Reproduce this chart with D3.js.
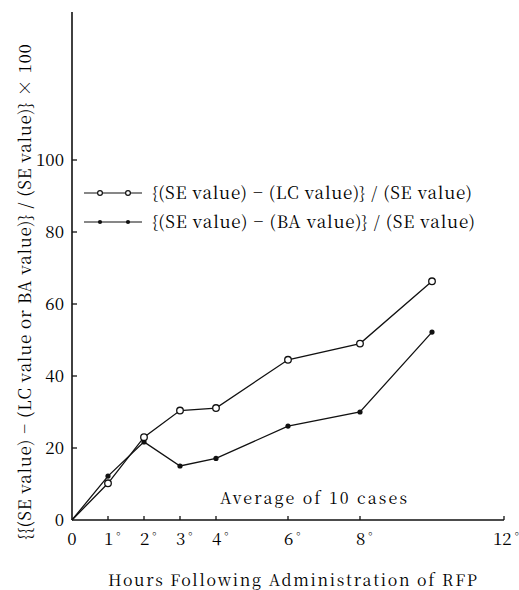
<!DOCTYPE html>
<html><head><meta charset="utf-8"><script src="https://cdn.jsdelivr.net/npm/d3@7"></script></head>
<body style="margin:0">
<script>
// Hours after administration and the two percentage series
const hours = [0, 1, 2, 3, 4, 6, 8, 10];
const lcSeries = [0, 10.2, 23, 30.4, 31.1, 44.5, 49, 66.3];
const baSeries = [0, 12.2, 21.7, 15, 17.1, 26.1, 30, 52.2];
const xTicks = [0, 1, 2, 3, 4, 6, 8, 12];
const xTickLabels = ["0", "1°", "2°", "3°", "4°", "6°", "8°", "12°"];
const yTicks = [0, 20, 40, 60, 80, 100];
const legendLabels = [
  "{(SE value) − (LC value)} / (SE value)",
  "{(SE value) − (BA value)} / (SE value)"
];
const noteText = "Average of 10 cases";
const xTitle = "Hours Following Administration of RFP";
const yTitle = "{{(SE value) − (LC value or BA value)} / (SE value)} × 100";

const W = 519, H = 590;
const INK = "#111";
const FONT = `"Noto Serif CJK JP"`;

const svg = d3.select("body").append("svg").attr("width", W).attr("height", H);

// Text helper: places a label at (px, py), optionally rotated
function txt(size, px, py, rot = 0) {
  const t = svg.append("text")
    .attr("transform", `translate(${px},${py}) rotate(${rot})`)
    .attr("font-size", size);
  t.style("font-family", FONT);
  return t;
}

const x = d3.scaleLinear().domain([0, 12]).range([72, 504]);
const y = d3.scaleLinear().domain([0, 100]).range([520, 160]);
const yTop = 12;

// Axes
svg.append("line").attr("x1", x(0)).attr("x2", x(0)).attr("y1", y(0)).attr("y2", yTop)
  .attr("stroke", INK).attr("stroke-width", 1.6);
svg.append("line").attr("x1", x(0)).attr("x2", x(12)).attr("y1", y(0)).attr("y2", y(0))
  .attr("stroke", INK).attr("stroke-width", 1.6);

// Y ticks (inward) and labels
yTicks.forEach(v => {
  if (v > 0) svg.append("line").attr("x1", x(0)).attr("x2", x(0) + 5)
    .attr("y1", y(v)).attr("y2", y(v)).attr("stroke", INK).attr("stroke-width", 1.3);
  txt(17, x(0) - 8, y(v) + 6).attr("text-anchor", "end").text(v);
});

// X ticks (upward) and labels with a small degree mark
xTicks.forEach((v, i) => {
  if (v > 0) svg.append("line").attr("x1", x(v)).attr("x2", x(v))
    .attr("y1", y(0)).attr("y2", y(0) - 4).attr("stroke", INK).attr("stroke-width", 1.3);
  const lbl = xTickLabels[i];
  if (lbl.endsWith("°")) {
    const num = lbl.slice(0, -1);
    const t = txt(17, x(v) - (num.length === 2 ? 11 : 4), 545);
    t.append("tspan").text(num);
    t.append("tspan").attr("font-size", 12).attr("dx", 3).attr("dy", -4).text("°");
  } else {
    txt(17, x(v), 545).attr("text-anchor", "middle").text(lbl);
  }
});

// Series lines and markers
const line = d3.line().x((d, i) => x(hours[i])).y(d => y(d));
[lcSeries, baSeries].forEach(s => {
  svg.append("path").datum(s).attr("d", line)
    .attr("fill", "none").attr("stroke", INK).attr("stroke-width", 1.3);
});
svg.selectAll(".ba").data(baSeries.slice(1)).enter().append("circle")
  .attr("cx", (d, i) => x(hours[i + 1])).attr("cy", d => y(d)).attr("r", 2.6)
  .attr("fill", INK);
svg.selectAll(".lc").data(lcSeries.slice(1)).enter().append("circle")
  .attr("cx", (d, i) => x(hours[i + 1])).attr("cy", d => y(d)).attr("r", 3.3)
  .attr("fill", "#fff").attr("stroke", INK).attr("stroke-width", 1.3);

// Legend
const legY = [193, 222];
const legEnd = [472, 475];
legendLabels.forEach((lbl, i) => {
  svg.append("line").attr("x1", 84).attr("x2", 142).attr("y1", legY[i]).attr("y2", legY[i])
    .attr("stroke", INK).attr("stroke-width", 1.2);
  [100, 128].forEach(cx => {
    const c = svg.append("circle").attr("cx", cx).attr("cy", legY[i]).attr("r", i === 0 ? 2.4 : 2.1);
    if (i === 0) c.attr("fill", "#fff").attr("stroke", INK).attr("stroke-width", 1.2);
    else c.attr("fill", INK);
  });
  txt(17, 152, legY[i] + 6)
    .attr("textLength", legEnd[i] - 152).attr("lengthAdjust", "spacing").text(lbl);
});

// Annotation
txt(16, 220, 504).attr("textLength", 187).attr("lengthAdjust", "spacing").text(noteText);

// Axis titles
txt(16, 108, 586).attr("textLength", 369).attr("lengthAdjust", "spacing").text(xTitle);
txt(17, 31, 540, -90).attr("textLength", 496).attr("lengthAdjust", "spacing").text(yTitle);
</script>
</body>
</html>
